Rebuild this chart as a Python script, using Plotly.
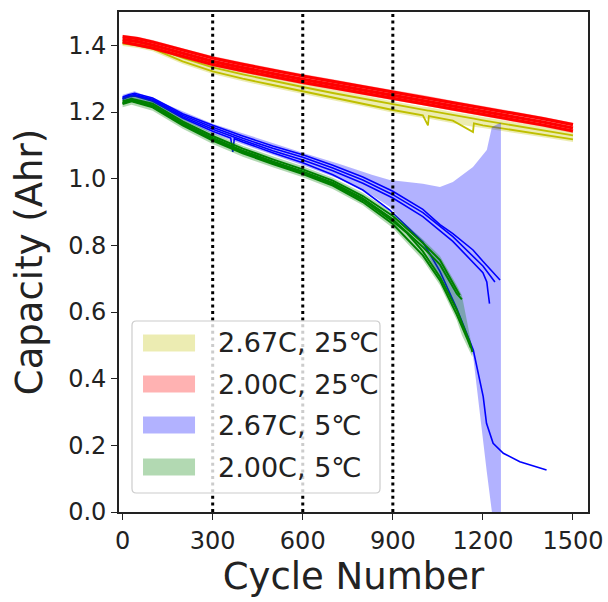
import plotly.graph_objects as go

# ---------------- data ----------------
labels = ["2.67C, 25℃", "2.00C, 25℃", "2.67C, 5℃", "2.00C, 5℃"]
colors = ["#BFBF00", "#FF0000", "#0000FF", "#008000"]
band_colors = ["rgba(191,191,0,0.3)", "rgba(255,0,0,0.3)",
               "rgba(0,0,255,0.3)", "rgba(0,128,0,0.3)"]
marker_cycles = [300, 600, 900]
x_ticks = [0, 300, 600, 900, 1200, 1500]
y_ticks = [0.0, 0.2, 0.4, 0.6, 0.8, 1.0, 1.2, 1.4]
y_ticktext = ["0.0", "0.2", "0.4", "0.6", "0.8", "1.0", "1.2", "1.4"]

# 2.67C, 25C (yellow)
y25_cycles = [0, 50, 100, 200, 300, 400, 500, 600, 700, 800, 900, 1000, 1017, 1020, 1100, 1167, 1170, 1200, 1300, 1400, 1500]
y25_cell1 = [1.405, 1.400, 1.390, 1.352, 1.322, 1.300, 1.281, 1.262, 1.243, 1.225, 1.206, 1.190, 1.160, 1.188, 1.174, 1.140, 1.166, 1.160, 1.146, 1.132, 1.118]
y25_cell2 = [1.410, 1.404, 1.396, 1.362, 1.334, 1.313, 1.293, 1.275, 1.257, 1.240, 1.222, 1.206, 1.204, 1.204, 1.190, 1.180, 1.180, 1.175, 1.160, 1.145, 1.130]
y25_band_upper = [1.418, 1.412, 1.404, 1.372, 1.344, 1.323, 1.303, 1.285, 1.267, 1.250, 1.232, 1.216, 1.214, 1.214, 1.200, 1.190, 1.190, 1.185, 1.170, 1.155, 1.140]
y25_band_lower = [1.398, 1.392, 1.382, 1.344, 1.314, 1.292, 1.273, 1.254, 1.235, 1.217, 1.198, 1.182, 1.180, 1.180, 1.166, 1.156, 1.156, 1.152, 1.138, 1.124, 1.110]

# 2.00C, 25C (red)
r25_cycles = [0, 50, 100, 200, 300, 400, 500, 600, 700, 800, 900, 1000, 1100, 1200, 1300, 1400, 1500]
r25_cell1 = [1.426, 1.420, 1.410, 1.385, 1.362, 1.343, 1.325, 1.308, 1.292, 1.276, 1.260, 1.245, 1.228, 1.212, 1.196, 1.180, 1.162]
r25_cell2 = [1.418, 1.411, 1.401, 1.376, 1.352, 1.333, 1.315, 1.298, 1.282, 1.266, 1.250, 1.235, 1.218, 1.202, 1.186, 1.170, 1.152]
r25_cell3 = [1.410, 1.402, 1.392, 1.367, 1.343, 1.324, 1.306, 1.289, 1.273, 1.257, 1.241, 1.226, 1.209, 1.193, 1.177, 1.161, 1.143]
r25_band_upper = [1.432, 1.426, 1.416, 1.391, 1.368, 1.349, 1.331, 1.314, 1.298, 1.282, 1.266, 1.251, 1.234, 1.218, 1.202, 1.186, 1.168]
r25_band_lower = [1.404, 1.396, 1.386, 1.361, 1.337, 1.318, 1.300, 1.283, 1.267, 1.251, 1.235, 1.220, 1.203, 1.187, 1.171, 1.155, 1.137]

# 2.67C, 5C (blue)
b5_cell1_cycles = [0, 20, 40, 100, 200, 300, 400, 500, 600, 700, 800, 900, 1000, 1057, 1100, 1167, 1200, 1257]
b5_cell1 = [1.245, 1.252, 1.256, 1.242, 1.195, 1.160, 1.128, 1.098, 1.072, 1.040, 1.005, 0.962, 0.908, 0.862, 0.835, 0.786, 0.752, 0.696]
b5_cell2_cycles = [0, 20, 40, 100, 200, 300, 400, 500, 600, 700, 800, 900, 1000, 1100, 1200, 1240]
b5_cell2 = [1.242, 1.249, 1.252, 1.238, 1.190, 1.154, 1.121, 1.091, 1.064, 1.032, 0.996, 0.952, 0.898, 0.826, 0.738, 0.690]
b5_cell3_cycles = [0, 20, 40, 100, 200, 300, 400, 500, 600, 700, 800, 900, 1000, 1100, 1200, 1213, 1217, 1222]
b5_cell3 = [1.240, 1.247, 1.250, 1.235, 1.186, 1.148, 1.115, 1.084, 1.056, 1.024, 0.986, 0.942, 0.886, 0.812, 0.718, 0.690, 0.660, 0.625]
b5_cell4_cycles = [0, 20, 40, 100, 200, 300, 360, 367, 372, 400, 500, 600, 700, 800, 890, 1000, 1057, 1113, 1168, 1190, 1201, 1212, 1234, 1268, 1323, 1412]
b5_cell4 = [1.238, 1.245, 1.248, 1.232, 1.182, 1.142, 1.122, 1.080, 1.120, 1.110, 1.078, 1.048, 1.012, 0.966, 0.906, 0.810, 0.722, 0.610, 0.486, 0.396, 0.346, 0.266, 0.206, 0.176, 0.151, 0.126]
b5_band_cycles = [0, 40, 300, 600, 720, 830, 890, 1000, 1057, 1100, 1167, 1213, 1230, 1257, 1260]
b5_band_upper = [1.252, 1.262, 1.165, 1.078, 1.045, 1.012, 0.996, 0.985, 0.975, 0.990, 1.035, 1.086, 1.155, 1.167, 1.167]
b5_band_lower = [1.232, 1.240, 1.135, 1.040, 1.000, 0.950, 0.915, 0.800, 0.700, 0.630, 0.470, 0.120, 0.000, 0.000, 0.000]

# 2.00C, 5C (green)
g5_cell1_cycles = [0, 30, 100, 200, 300, 400, 500, 600, 700, 800, 900, 1000, 1057, 1113, 1123]
g5_cell1 = [1.232, 1.240, 1.225, 1.172, 1.128, 1.090, 1.058, 1.028, 0.994, 0.948, 0.888, 0.807, 0.756, 0.666, 0.650]
g5_cell2_cycles = [0, 30, 100, 200, 300, 400, 500, 600, 700, 800, 900, 1000, 1057, 1113, 1130]
g5_cell2 = [1.228, 1.236, 1.220, 1.167, 1.122, 1.084, 1.052, 1.022, 0.988, 0.941, 0.878, 0.795, 0.742, 0.655, 0.638]
g5_cell3_cycles = [0, 30, 100, 200, 300, 400, 500, 600, 700, 800, 900, 947, 1000, 1057, 1113, 1157, 1165]
g5_cell3 = [1.226, 1.234, 1.217, 1.163, 1.118, 1.080, 1.048, 1.018, 0.984, 0.936, 0.872, 0.837, 0.782, 0.705, 0.606, 0.507, 0.480]
g5_cell4_cycles = [0, 30, 100, 200, 300, 400, 500, 600, 700, 800, 900, 1000, 1057, 1113, 1150, 1160]
g5_cell4 = [1.224, 1.232, 1.214, 1.160, 1.114, 1.076, 1.044, 1.014, 0.979, 0.930, 0.864, 0.770, 0.695, 0.592, 0.515, 0.492]
g5_band_cycles = [0, 30, 100, 200, 300, 400, 500, 600, 700, 800, 900, 1000, 1057, 1113, 1130, 1165]
g5_band_upper = [1.242, 1.250, 1.234, 1.181, 1.137, 1.099, 1.067, 1.037, 1.003, 0.958, 0.898, 0.818, 0.768, 0.680, 0.650, 0.490]
g5_band_lower = [1.214, 1.222, 1.204, 1.150, 1.104, 1.066, 1.034, 1.004, 0.969, 0.920, 0.852, 0.756, 0.680, 0.575, 0.530, 0.465]

# ---------------- figure ----------------
fig = go.Figure()

groups = [
    (y25_cycles, y25_band_upper, y25_band_lower,
     [(y25_cycles, y25_cell2), (y25_cycles, y25_cell1)], 1.8),
    (r25_cycles, r25_band_upper, r25_band_lower,
     [(r25_cycles, r25_cell1), (r25_cycles, r25_cell2), (r25_cycles, r25_cell3)], 3.2),
    (b5_band_cycles, b5_band_upper, b5_band_lower,
     [(b5_cell1_cycles, b5_cell1), (b5_cell2_cycles, b5_cell2),
      (b5_cell3_cycles, b5_cell3), (b5_cell4_cycles, b5_cell4)], 1.6),
    (g5_band_cycles, g5_band_upper, g5_band_lower,
     [(g5_cell1_cycles, g5_cell1), (g5_cell2_cycles, g5_cell2),
      (g5_cell3_cycles, g5_cell3), (g5_cell4_cycles, g5_cell4)], 2.0),
]

for i, (bx, bu, bl, cells, lw) in enumerate(groups):
    fig.add_trace(go.Scatter(
        x=list(bx) + list(bx)[::-1], y=list(bu) + list(bl)[::-1],
        fill="toself", fillcolor=band_colors[i], mode="none",
        line=dict(width=0), name=labels[i], showlegend=False, hoverinfo="skip"))
    for cx, cy in cells:
        fig.add_trace(go.Scatter(
            x=cx, y=cy, mode="lines", line=dict(color=colors[i], width=lw),
            name=labels[i], showlegend=False))

for c in marker_cycles:
    fig.add_shape(type="line", xref="x", yref="paper", x0=c, x1=c, y0=0, y1=1,
                  line=dict(color="black", width=3, dash="3px,3.6px"), layer="above")

# ---- legend drawn as a framed box (matplotlib style) ----
lx0, lx1, ly0, ly1 = 0.0277, 0.5565, 0.038, 0.382
rx, ry = 0.009, 0.009
box_path = (f"M{lx0+rx},{ly0} L{lx1-rx},{ly0} Q{lx1},{ly0} {lx1},{ly0+ry} "
            f"L{lx1},{ly1-ry} Q{lx1},{ly1} {lx1-rx},{ly1} L{lx0+rx},{ly1} "
            f"Q{lx0},{ly1} {lx0},{ly1-ry} L{lx0},{ly0+ry} Q{lx0},{ly0} {lx0+rx},{ly0} Z")
fig.add_shape(type="path", xref="paper", yref="paper", path=box_path,
              fillcolor="rgba(255,255,255,0.8)", line=dict(color="#cccccc", width=1.2),
              layer="above")
row_y = [0.338, 0.256, 0.174, 0.090]
font = "DejaVu Sans, sans-serif"
for i, lab in enumerate(labels):
    fig.add_shape(type="rect", xref="paper", yref="paper",
                  x0=0.0512, x1=0.1621, y0=row_y[i] - 0.017, y1=row_y[i] + 0.017,
                  fillcolor=band_colors[i], line=dict(width=0), layer="above")
    fig.add_annotation(xref="paper", yref="paper", x=0.2068, y=row_y[i],
                       xanchor="left", yanchor="middle", showarrow=False,
                       text=lab, font=dict(size=27, family=font, color="#222222"))

fig.update_layout(
    width=608, height=602,
    margin=dict(l=119, r=20, t=12, b=90),
    paper_bgcolor="white", plot_bgcolor="white",
    font=dict(family=font, color="#222222"),
    showlegend=False,
    xaxis=dict(range=[-12, 1550], tickvals=x_ticks, automargin=False,
               ticks="outside", ticklen=6, tickwidth=1.4, tickcolor="#222",
               showline=True, linecolor="#222", linewidth=1.6, mirror=True,
               showgrid=False, zeroline=False,
               tickfont=dict(size=24, family=font),
               title=dict(text="Cycle Number", font=dict(size=37, family=font), standoff=6)),
    yaxis=dict(range=[0, 1.5], tickvals=y_ticks, ticktext=y_ticktext, automargin=False,
               ticks="outside", ticklen=6, tickwidth=1.4, tickcolor="#222",
               showline=True, linecolor="#222", linewidth=1.6, mirror=True,
               showgrid=False, zeroline=False,
               tickfont=dict(size=24, family=font),
               title=dict(text="Capacity (Ahr)", font=dict(size=37, family=font), standoff=14)),
)

fig.write_html("out.html")
